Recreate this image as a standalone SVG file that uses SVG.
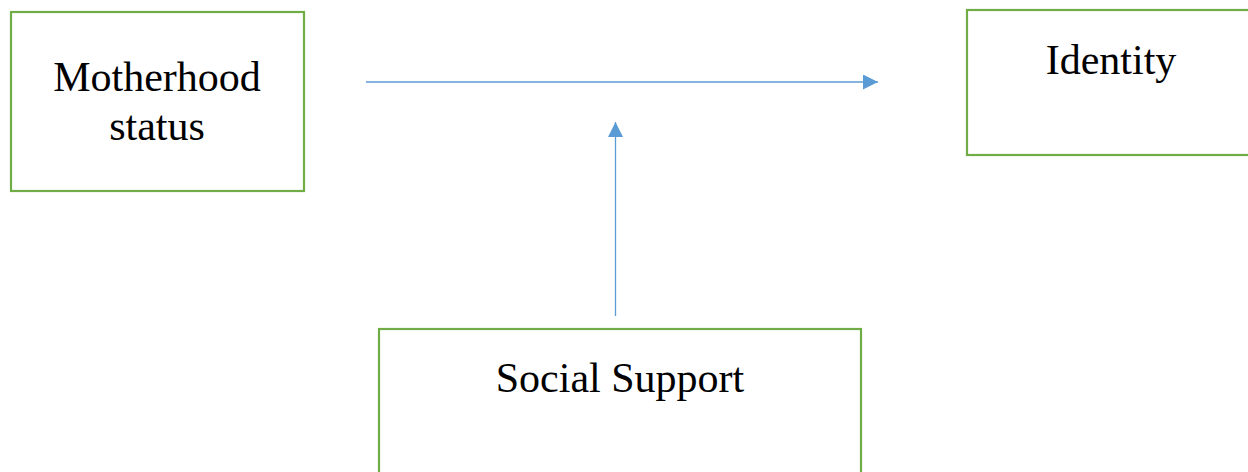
<svg xmlns="http://www.w3.org/2000/svg" width="1248" height="472" viewBox="0 0 1248 472">
<style>
.box{fill:#fff;stroke:#70AD47;stroke-width:2.2}
.lbl{font-family:"Liberation Serif","Times New Roman",serif;font-size:42px;fill:#000;text-anchor:middle}
.conn{stroke:#5B9BD5;stroke-width:1.3;fill:none}
</style>
<defs>
<marker id="ah" markerUnits="userSpaceOnUse" markerWidth="16" markerHeight="16" refX="15" refY="7.5" orient="auto">
<path d="M0,0 L15,7.5 L0,15 Z" fill="#5B9BD5"/>
</marker>
</defs>
<rect width="1248" height="472" fill="#fff"/>
<g id="motherhood">
<rect class="box" x="11" y="12" width="293" height="179"/>
<text class="lbl" x="157" y="91">Motherhood</text>
<text class="lbl" x="157" y="140">status</text>
</g>
<g id="identity">
<rect class="box" x="967" y="10" width="290" height="145"/>
<text class="lbl" x="1111" y="74">Identity</text>
</g>
<g id="social-support">
<rect class="box" x="379" y="329" width="482" height="160"/>
<text class="lbl" x="620" y="392">Social Support</text>
</g>
<g id="connectors">
<line class="conn" x1="366" y1="82" x2="878" y2="82" marker-end="url(#ah)"/>
<line class="conn" x1="615.5" y1="316" x2="615.5" y2="122" marker-end="url(#ah)"/>
</g>
</svg>
